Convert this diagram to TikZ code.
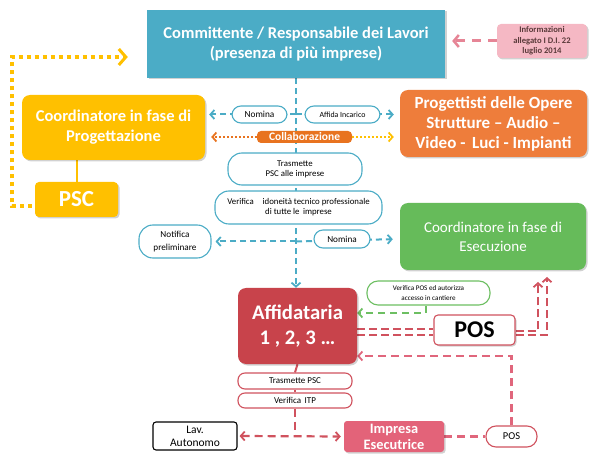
\documentclass[tikz,border=0pt]{standalone}
\usepackage{fontspec}
\setmainfont{Carlito}
\usetikzlibrary{arrows.meta,calc,backgrounds,shadows}
\definecolor{cblue}{HTML}{4BACC6}
\definecolor{cyel}{HTML}{FFC000}
\definecolor{corange}{HTML}{EE7D3B}
\definecolor{ccoll}{HTML}{E8731F}
\definecolor{cgreen}{HTML}{66BB5A}
\definecolor{cred}{HTML}{C8434B}
\definecolor{cpink}{HTML}{F5B8C4}
\definecolor{cimp}{HTML}{E36379}
\definecolor{cpinkl}{HTML}{E0667C}
\definecolor{cdred}{HTML}{D0525E}
\definecolor{cgreenl}{HTML}{6DBF62}
\definecolor{cinfo}{HTML}{5A3A3A}
\tikzset{
  shad/.style={drop shadow={shadow xshift=1.5pt,shadow yshift=-1.5pt,fill=black,opacity=0.18}},
  bigbox/.style={shad,rounded corners=8pt,inner sep=0pt,align=center,text=white,font=\bfseries},
  oval/.style={draw=cblue,line width=1.1pt,fill=white,rounded corners=9pt,inner sep=0pt,align=center,font=\fontsize{8.8}{10}\selectfont},
  roval/.style={oval,draw=cdred,rounded corners=7pt},
  tip/.style={-{Straight Barb[length=4pt,width=9pt,line width=1.8pt]}},
  bdash/.style={draw=cblue,line width=2pt,dash pattern=on 6pt off 4pt},
}
\begin{document}
\begin{tikzpicture}[x=1pt,y=-1pt]
\useasboundingbox (0,0) rectangle (600,465);
% boxes
\node[shad,fill=cblue,minimum width=298pt,minimum height=68pt,inner sep=0pt,align=center,text=white,font=\fontsize{16.5}{20}\selectfont\bfseries] (comm) at (296,44) {Committente / Responsabile dei Lavori\\(presenza di più imprese)};
\node[shad,fill=cpink,rounded corners=4pt,minimum width=90pt,minimum height=34pt,inner sep=0pt,align=center,text=cinfo,font=\fontsize{8.6}{10.3}\selectfont\bfseries] (info) at (542,41) {Informazioni\\allegato I D.I. 22\\luglio 2014};
\node[bigbox,fill=cyel,minimum width=183pt,minimum height=65pt,font=\fontsize{16.5}{20}\selectfont\bfseries] (coordP) at (113.5,127.5) {Coordinatore in fase di\\Progettazione};
\node[bigbox,fill=cyel,rounded corners=4pt,minimum width=83pt,minimum height=35pt,font=\fontsize{23}{26}\selectfont\bfseries] (psc) at (76.5,199.5) {PSC};
\node[bigbox,fill=corange,minimum width=187pt,minimum height=67pt,font=\fontsize{17}{20}\selectfont\bfseries] (prog) at (493.5,123.5) {Progettisti delle Opere\\Strutture -- Audio --\\Video -\, Luci - Impianti};
\node[oval,minimum width=55pt,minimum height=17pt,font=\fontsize{9.3}{10}\selectfont] (nom1) at (259.5,114.5) {Nomina};
\node[oval,minimum width=75pt,minimum height=17pt,font=\fontsize{7.9}{9}\selectfont] (affida) at (342.5,114.5) {Affida Incarico};
\node[fill=ccoll,rounded corners=4pt,minimum width=95pt,minimum height=12pt,inner sep=0pt,text=white,font=\fontsize{11.5}{12}\selectfont\bfseries] (collab) at (304.5,137) {Collaborazione};
\node[oval,minimum width=134pt,minimum height=32pt,rounded corners=14pt] (trasm) at (295,169) {Trasmette\\PSC alle imprese};
\node[oval,minimum width=167pt,minimum height=33pt,rounded corners=14pt] (verif) at (298.5,207.5) {Verifica\quad idoneità tecnico professionale\\di tutte le\, imprese};
\node[oval,minimum width=72pt,minimum height=33pt,rounded corners=14pt,font=\fontsize{9.2}{12.3}\selectfont] (notif) at (175,241.5) {Notifica\\preliminare};
\node[oval,minimum width=56pt,minimum height=18pt,font=\fontsize{9.2}{10}\selectfont] (nom2) at (342,239) {Nomina};
\node[bigbox,fill=cgreen,minimum width=186pt,minimum height=67pt,font=\fontsize{15}{19}\selectfont] (coordE) at (493,236.5) {Coordinatore in fase di\\Esecuzione};
\node[bigbox,fill=cred,minimum width=119pt,minimum height=76pt,font=\fontsize{20.7}{25}\selectfont\bfseries] (affid) at (297.5,326) {Affidataria\\1 , 2, 3 \dots};
\node[oval,draw=cgreenl,minimum width=123pt,minimum height=24pt,rounded corners=11pt,font=\fontsize{7.1}{9.5}\selectfont] (verPOS) at (428.5,293) {Verifica POS ed autorizza\\accesso in cantiere};
\node[shad,draw=cdred,line width=1.1pt,fill=white,rounded corners=4pt,minimum width=81pt,minimum height=30pt,inner sep=0pt,font=\fontsize{24}{26}\selectfont\bfseries] (pos) at (474.5,330) {POS};
\node[roval,minimum width=114pt,minimum height=16pt,font=\fontsize{9}{10}\selectfont] (trPSC) at (295,381) {Trasmette PSC};
\node[roval,minimum width=114pt,minimum height=15pt,font=\fontsize{9}{10}\selectfont] (vITP) at (295,400.5) {Verifica\, ITP};
\node[draw=black,line width=1.1pt,fill=white,rounded corners=3pt,minimum width=84pt,minimum height=28pt,inner sep=0pt,align=center,font=\fontsize{11.5}{13}\selectfont] (lav) at (195,436) {Lav.\\Autonomo};
\node[bigbox,fill=cimp,rounded corners=3pt,minimum width=100pt,minimum height=31pt,font=\fontsize{14.4}{16}\selectfont\bfseries] (impr) at (394,436.5) {Impresa\\Esecutrice};
\node[roval,minimum width=51pt,minimum height=21pt,rounded corners=10pt,font=\fontsize{10.5}{11}\selectfont] (pos2) at (511.5,436.5) {POS};
% connectors
\begin{scope}[on background layer]
\coordinate (cA) at (comm.south |- nom1);
\coordinate (cB) at (comm.south |- notif);
\draw[bdash,tip] (comm.south) -- (comm.south |- affid.north);
\draw[bdash,tip,shorten >=4pt] (cA) -- (coordP.east |- nom1);
\draw[bdash,tip,shorten >=6pt] (cA) -- (prog.west |- affida);
\draw[bdash,tip,shorten >=4pt] (cB) -- (notif.east);
\draw[bdash,tip,shorten >=7pt] (cB) -- (prog.west |- nom2);
\draw[draw=ccoll,line width=2pt,dash pattern=on 2pt off 2pt,-{Straight Barb[length=4pt,width=9pt,line width=1.8pt]},shorten >=6pt] (collab.west) -- (coordP.east |- collab);
\draw[draw=cyel,line width=2pt,dash pattern=on 2pt off 2pt,-{Straight Barb[length=4pt,width=9pt,line width=1.8pt]},shorten >=6pt] (collab.east) -- (prog.west |- collab);
\draw[draw=cyel,line width=2pt] (psc.north) -- (psc.north |- coordP.south);
\draw[draw=cyel,line width=4pt,dash pattern=on 4pt off 4pt,-{Straight Barb[length=7pt,width=16pt,line width=3pt]}] ($(psc.west)+(-3,7)$) -- (12,206.5) |- ($(comm.west)+(-19,13)$);
\draw[draw=cpinkl!80,line width=3pt,dash pattern=on 9pt off 7pt,-{Straight Barb[length=5pt,width=12pt,line width=2.5pt]},shorten >=7pt] (info.west) -- (comm.east |- info);
% green
\draw[draw=cgreenl,line width=1.8pt] ($(verPOS.north)+(-2,0)$) -- ($(verPOS.north)+(-2,0)$ |- coordE.south);
\draw[draw=cgreenl,line width=2pt,dash pattern=on 7pt off 5pt,tip] ($(verPOS.south)+(-3,0)$) |- ($(affid.east)+(0,-13)$);
% red double
\coordinate (d1) at ($(affid.east)+(0,3)$);
\coordinate (d2) at ($(affid.east)+(0,9)$);
\draw[draw=cdred,line width=2.2pt,dash pattern=on 8pt off 4pt] (d1) -- (pos.west |- d1);
\draw[draw=cdred,line width=2.2pt,dash pattern=on 8pt off 4pt] (d2) -- (pos.west |- d2);
\draw[draw=cdred,line width=2.2pt,dash pattern=on 8pt off 4pt,tip] ($(pos.east)+(0,1)$) -| (538,282);
\draw[draw=cdred,line width=2.2pt,dash pattern=on 8pt off 4pt,tip] ($(pos.east)+(0,5)$) -| (547,277);
\draw[draw=cpinkl,line width=2.2pt,dash pattern=on 8pt off 5pt,tip] (pos2.north) |- ($(affid.east)+(0,30)$);
\draw[draw=cpinkl,line width=2.2pt,dash pattern=on 8pt off 5pt] (impr.east) -- (pos2.west);
\draw[draw=cdred,line width=2pt] (affid.south) -- (trPSC.north);
\draw[draw=cdred,line width=1.5pt] (trPSC.south) -- (vITP.north);
\coordinate (cC) at (vITP.south |- lav);
\draw[draw=cdred,line width=2.2pt,dash pattern=on 8pt off 5pt] (vITP.south) -- (cC);
\draw[draw=cdred,line width=2.2pt,dash pattern=on 8pt off 5pt,{Straight Barb[length=4pt,width=9pt,line width=1.8pt]}-{Straight Barb[length=4pt,width=9pt,line width=1.8pt]},shorten <=2pt,shorten >=3pt] (lav.east) -- (impr.west);
\end{scope}
\end{tikzpicture}
\end{document}
